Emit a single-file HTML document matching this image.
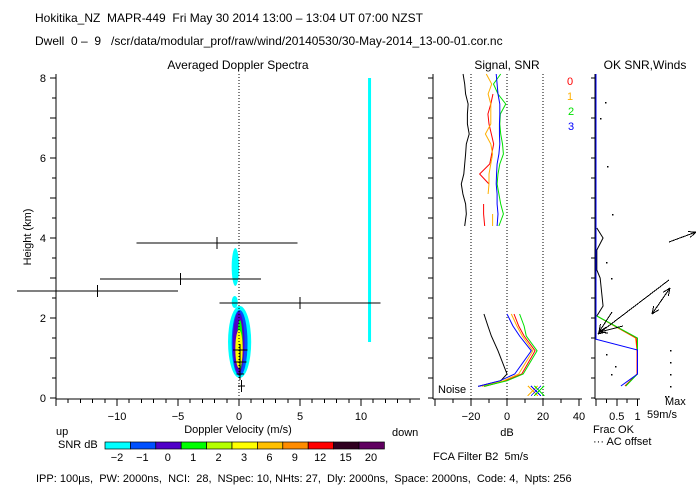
<!DOCTYPE html>
<html><head><meta charset="utf-8">
<style>
body{margin:0;background:#fff;}
svg{display:block;font-family:"Liberation Sans",sans-serif;}
text{font-size:11px;fill:#000;white-space:pre;}
</style></head>
<body>
<svg id="c" width="700" height="500" viewBox="0 0 700 500" xml:space="preserve">
<text x="35" y="22" style="font-size:12px">Hokitika_NZ  MAPR-449  Fri May 30 2014 13:00 – 13:04 UT 07:00 NZST</text>
<text x="35" y="45" style="font-size:12px">Dwell  0 –  9   /scr/data/modular_prof/raw/wind/20140530/30-May-2014_13-00-01.cor.nc</text>
<text x="238" y="69" text-anchor="middle" style="font-size:12px">Averaged Doppler Spectra</text>
<text x="507" y="69" text-anchor="middle" style="font-size:12px">Signal, SNR</text>
<text x="645" y="69" text-anchor="middle" style="font-size:12px">OK SNR,Winds</text>
<text transform="translate(31,237) rotate(-90)" text-anchor="middle">Height (km)</text>
<text x="238" y="433" text-anchor="middle">Doppler Velocity (m/s)</text>
<text x="56" y="435">up</text>
<text x="392" y="436">down</text>
<text x="58" y="448">SNR dB</text>
<text x="507" y="436" text-anchor="middle">dB</text>
<text x="593" y="433">Frac OK</text>
<text x="593" y="445">··· AC offset</text>
<text x="665" y="405">Max</text>
<text x="647" y="418">59m/s</text>
<text x="433" y="460">FCA Filter B2  5m/s</text>
<text x="36" y="482">IPP: 100µs,  PW: 2000ns,  NCI:  28,  NSpec: 10, NHts: 27,  Dly: 2000ns,  Space: 2000ns,  Code: 4,  Npts: 256</text>
<text x="438" y="393">Noise</text>
<g id="g"></g>
</svg>
<script>
// ---- data ----
const hTicks=[0,2,4,6,8];
const vTicks=[-10,-5,0,5,10];
const dbTicks=[-20,0,20,40];
const fracTicks=[0.5,1];
const snrLevels=['-2','-1','0','1','2','3','6','9','12','15','20'];
const snrColors=['#00ffff','#0050ff','#5000c8','#00ff00','#b4ff00','#ffff00','#ffc000','#ff8c00','#ff0000','#300020','#600060'];
// spectral blobs
const blobVmin=[-0.9,-0.6,-0.5,-0.35,-0.15,-0.3,-0.6,-0.6];
const blobVmax=[1.0,0.7,0.45,0.35,0.3,0.3,-0.1,0.0];
const blobHmin=[0.5,0.55,0.6,0.65,0.7,0.75,2.25,2.8];
const blobHmax=[2.3,2.2,2.15,2.1,1.95,1.7,2.55,3.75];
const blobLevel=[0,1,2,2,3,5,0,0];
// error bars
const errH=[3.87,2.97,2.67,2.37,1.2,0.9,0.6,0.3];
const errV=[-1.8,-4.8,-11.6,5.0,0.1,0.1,0.1,0.2];
const errW=[6.6,6.6,6.6,6.6,0.6,0.5,0.3,0.3];
const clutterV=10.7, clutterHmin=1.4, clutterHmax=8.0;
// signal panel
const sigHUp=[8.1,7.85,7.6,7.35,7.1,6.85,6.6,6.35,6.1,5.85,5.6,5.35,5.1,4.85,4.6,4.3];
const noiseUp=[-24.4,-23.5,-23,-21.6,-22,-22,-21,-22.6,-23,-23.5,-24,-25.4,-24.5,-23,-22.6,-23.5];
const snr0Up=[null,null,-7.8,-9,-10.6,-10,-8.7,-7.4,-8.5,-9.6,-15.2,-10,null,-13,-13,-12.4];
const snr1Up=[-11.5,-8.5,-10.5,-9,-9,-9,-12,-9,-8,-9,-10,-10,-10.5,null,-8,-8];
const snr2Up=[-3.5,-7.5,-5,-0.7,-3.7,-4,-3.5,-2.5,-2,-4,-5,-5.5,-4.5,-3.5,-2,-4.5];
const snr3Up=[-6,-5.5,-5,-4,-4,-4.2,-4.2,-4,-4.5,-5.5,-5.8,-6,-5.5,-5.5,-5,-5.5];
const sigHLow=[2.1,1.8,1.55,1.18,0.6,0.43,0.29];
const noiseLow=[-12.8,-10.6,-8.7,-5,0,-3.5,-16];
const snr0Low=[3.9,6.5,9.5,15.6,8.2,-1,-12.5];
const snr1Low=[2.4,5.5,8.5,14.4,6.5,-2,-14];
const snr2Low=[7,9.5,10.7,16.7,9,0,-12.8];
const snr3Low=[0,3.3,7,13.5,4.3,-4,-16];
const markH=0.18, markDb=[14.3,16.1,17.9];
// winds panel
const fracH=[2.05,1.5,1.2,0.6,0.3];
const frac0=[0.02,0.97,0.99,0.99,0.7];
const frac1=[0.02,0.95,0.99,0.99,0.7];
const frac2=[0.02,1.0,1.0,1.0,0.72];
const frac3H=[8.1,1.47,1.2,0.6,0.3];
const frac3=[0,0,1.0,1.0,0.6];
const acH=[4.25,4.0,3.7,3.2,3.0,2.6,2.3,2.05];
const acFrac=[0.02,0.17,0.02,0.02,0.1,0.14,0.17,0.02];
const windH=[3.9,2.95,2.75,2.15,1.8];
const windX=[669,669,670,612,623];
const windU=[27,-71,-18,-13,-23];
const windW=[10,-54,-26,-20,-6];
// ---- scales ----
const yH=h=>398-h*40;
const xV=v=>239+v*12.2;
const xDb=d=>507+d*1.8;
const xF=f=>596+f*41.5;
const NS='http://www.w3.org/2000/svg';
const g=document.getElementById('g');
function mk(tag,attrs,name){const e=document.createElementNS(NS,tag);for(const k in attrs)e.setAttribute(k,attrs[k]);


g.appendChild(e);return e;}
function line(x1,y1,x2,y2,c,name,dash){const a={x1,y1,x2,y2,stroke:c,'stroke-width':1,'shape-rendering':'crispEdges'};if(dash)a['stroke-dasharray']=dash;return mk('line',a,name);}
function poly(pts,c,name){return mk('polyline',{points:pts.map(p=>p.join(',')).join(' '),fill:'none',stroke:c,'stroke-width':1},name);}
function txt(x,y,s,name,anchor,col){const t=mk('text',{x,y,'text-anchor':anchor||'middle'},name);if(col)t.setAttribute('style','fill:'+col);t.textContent=s;return t;}
blobVmin.forEach((vm,i)=>{const x1=xV(vm),x2=xV(blobVmax[i]),y1=yH(blobHmax[i]),y2=yH(blobHmin[i]);
mk('ellipse',{cx:(x1+x2)/2,cy:(y1+y2)/2,rx:(x2-x1)/2,ry:(y2-y1)/2,fill:snrColors[blobLevel[i]]},'spectrum-blob');});
mk('rect',{x:xV(clutterV)-1.5,y:yH(clutterHmax),width:3,height:yH(clutterHmin)-yH(clutterHmax),fill:'#00ffff'},'clutter-line');
line(xV(0),yH(8.1),xV(0),yH(0),'#000','zero-velocity-line','1,2');
errH.forEach((h,i)=>{const y=yH(h);line(Math.max(17,xV(errV[i]-errW[i])),y,xV(errV[i]+errW[i]),y,'#000','error-bar');line(xV(errV[i]),y-6,xV(errV[i]),y+6,'#000','error-bar-center');});
line(56,yH(8.1),56,399,'#000','y-axis');line(56,399,420,399,'#000','x-axis');
for(let h=0;h<=8;h+=0.5){const y=yH(h);line(h%1===0?50:52,y,56,y,'#000','y-tick');line(428,y,433,y,'#000','signal-y-tick');line(591,y,595,y,'#000','winds-y-tick');}
hTicks.forEach(h=>txt(46,yH(h)+4,String(h),'y-tick-label','end'));
for(let v=-15;v<=14;v++){const x=xV(v);line(x,399,x,v%5===0?406:403,'#000','x-tick');}
vTicks.forEach(v=>txt(xV(v),420,v<0?'−'+(-v):String(v),'x-tick-label'));
line(433,yH(8.1),433,399,'#000','signal-y-axis');line(433,399,582,399,'#000','signal-x-axis');
for(let d=-40;d<=40;d+=10){const x=xDb(d);if(x>=433)line(x,399,x,d%20===0?406:403,'#000','db-tick');}
dbTicks.forEach(d=>txt(xDb(d),420,d<0?'−'+(-d):String(d),'db-tick-label'));
[-20,0,20].forEach(d=>line(xDb(d),yH(8.1),xDb(d),399,'#000','db-grid-line','1,2'));
function seg(hs,vals,fx,c,name){let cur=[];hs.forEach((h,i)=>{if(vals[i]===null){if(cur.length>1)poly(cur,c,name);cur=[];}else cur.push([fx(vals[i]),yH(h)]);});if(cur.length>1)poly(cur,c,name);}
seg(sigHUp,noiseUp,xDb,'#000','noise-line-upper');
seg(sigHUp,snr0Up,xDb,'#ff0000','snr-0-upper');
seg(sigHUp,snr1Up,xDb,'#ffb000','snr-1-upper');
seg(sigHUp,snr2Up,xDb,'#00e000','snr-2-upper');
seg(sigHUp,snr3Up,xDb,'#0000ff','snr-3-upper');
seg(sigHLow,noiseLow,xDb,'#000','noise-line-lower');
seg(sigHLow,snr0Low,xDb,'#ff0000','snr-0-lower');
seg(sigHLow,snr1Low,xDb,'#ffb000','snr-1-lower');
seg(sigHLow,snr2Low,xDb,'#00e000','snr-2-lower');
seg(sigHLow,snr3Low,xDb,'#0000ff','snr-3-lower');
const mcol=['#ffb000','#0000ff','#00e000'];
markDb.forEach((d,i)=>{const x=xDb(d),y=yH(markH);line(x-5,y-5,x+5,y+5,mcol[i],'snr-marker');line(x-5,y+5,x+5,y-5,mcol[i],'snr-marker');});
['0','1','2','3'].forEach((s,i)=>txt(i<2?570:571,85+i*15,s,'legend-entry','middle',['#ff0000','#ffb000','#00e000','#0000ff'][i]));
line(595,yH(8.1),595,399,'#000','winds-y-axis');line(595,399,640,399,'#000','winds-x-axis');
for(let f=0;f<=1.001;f+=0.25){const x=xF(f);line(x,399,x,f%0.5===0?406:403,'#000','frac-tick');}
fracTicks.forEach(f=>txt(xF(f),420,String(f),'frac-tick-label'));
seg(acH,acFrac,xF,'#000','ac-offset-line');
seg(fracH,frac1,xF,'#ffb000','frac-ok-1');
seg(fracH,frac0,xF,'#ff0000','frac-ok-0');
seg(fracH,frac2,xF,'#00e000','frac-ok-2');
seg(frac3H,frac3,xF,'#0000ff','frac-ok-3');
function arrowHead(x1,y1,x2,y2){const a=Math.atan2(y2-y1,x2-x1),L=8;[0.4,-0.4].forEach(d=>line(x2,y2,x2-L*Math.cos(a+d),y2-L*Math.sin(a+d),'#000','wind-arrow-head'));}
windH.forEach((h,i)=>{const x1=windX[i],y1=yH(h),x2=x1+windU[i],y2=y1-windW[i];line(x1,y1,x2,y2,'#000','wind-arrow');arrowHead(x1,y1,x2,y2);if(i===2)arrowHead(x2,y2,x1,y1);});
[[605,7.4],[600,7.0],[607,5.8],[612,4.6],[606,3.4],[611,3.0],[606,1.1],[611,0.6],[615,0.8],[670,1.2],[670,0.9],[670,0.6],[670,0.3],[665,0.05],[668,0.05]].forEach(p=>mk('rect',{x:p[0],y:yH(p[1]),width:1.5,height:1.5,fill:'#000'},'wind-dot'));
snrColors.forEach((c,i)=>{mk('rect',{x:105+i*25.4,y:442,width:25.4,height:7,fill:c,stroke:'#000','stroke-width':0.7},'colorbar-cell');
txt(117+i*25.4,461,snrLevels[i].replace('-','−'),'colorbar-label');});
</script>
</body></html>
